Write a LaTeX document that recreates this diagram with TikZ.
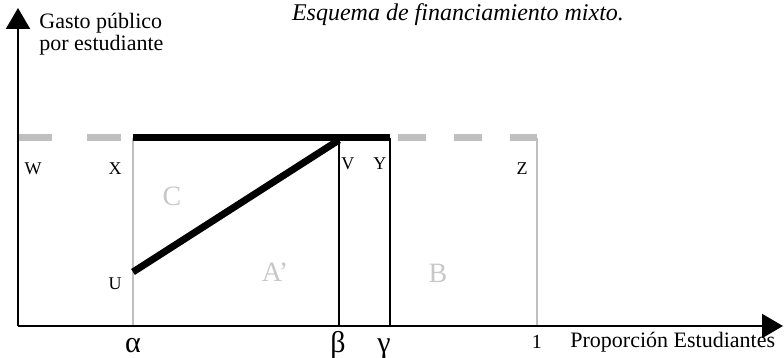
\documentclass[tikz,border=0pt]{standalone}
\usepackage{fontspec}
\setmainfont{Liberation Serif}
\usetikzlibrary{arrows.meta}
\tikzset{
  diagaxis/.style={-{Triangle[length=10.5pt,width=12pt]}, line width=1pt},
  diagthick/.style={line width=3.5pt},
  diagthin/.style={line width=0.8pt},
  diagsmall/.style={font=\fontsize{9}{10}\selectfont, inner sep=0pt, anchor=base},
}

\begin{document}
\begin{tikzpicture}[
  x=0.5pt, y=0.5pt,
  font=\fontsize{11}{11}\selectfont,
  grayline/.style={diagthin, draw=black!25},
  graydash/.style={diagthick, draw=black!25},
  areatxt/.style={font=\fontsize{14}{16}\selectfont, text=black!22, inner sep=0pt, anchor=base},
  greektxt/.style={font=\fontsize{15}{17}\selectfont, inner sep=0pt, anchor=base},
]
  \useasboundingbox (-18,-32) rectangle (766,326);
  \coordinate (O) at (0,0);
  \coordinate (Ytip) at (0,318);
  \coordinate (Xtip) at (765,0);
  \coordinate (Wt) at (0,188);
  \coordinate (Xt) at (115,188);
  \coordinate (Xb) at (115,0);
  \coordinate (Ut) at (115,54);
  \coordinate (Vt) at (321,186);
  \coordinate (Vb) at (321,0);
  \coordinate (Yt) at (372,188);
  \coordinate (Yb) at (372,0);
  \coordinate (Zd) at (380,188);
  \coordinate (Zt) at (519,188);
  \coordinate (Zb) at (519,0);

  \draw[graydash, dash pattern=on 17pt off 17.5pt] (Wt) -- (Xt);
  \draw[graydash, dash pattern=on 14pt off 14pt] (Zd) -- (Zt);
  \draw[grayline] (Xt) -- (Xb);
  \draw[grayline] (Zt) -- (Zb);
  \draw[diagthin] (Vt) -- (Vb);
  \draw[diagthin] (Yt) -- (Yb);
  \draw[diagthick] (Xt) -- (Yt);
  \draw[diagthick] (Ut) -- (Vt);
  \draw[diagaxis] (O) -- (Ytip);
  \draw[diagaxis] (O) -- (Xtip);

  \node[font=\fontsize{12}{13}\selectfont\itshape, anchor=base] (titulo) at (440,305)
    {Esquema de financiamiento mixto.};
  \node[anchor=north west, align=left, inner sep=0pt] (ylab) at (21,313)
    {Gasto público\\por estudiante};
  \node[anchor=base west, inner sep=0pt] (xlab) at (552,-22) {Proporción Estudiantes};

  \foreach \n/\t/\x/\y in {w/W/15/151, x/X/97/151, z/Z/504/151, v/V/330/156, y/Y/362/156, u/U/97/36}
    \node[diagsmall] (lab\n) at (\x,\y) {\t};
  \node[areatxt] (areaC) at (154,120) {C};
  \node[areatxt] (areaA) at (257,44) {A’};
  \node[areatxt] (areaB) at (420,43) {B};
  \node[greektxt] (alfa) at (115,-27) {α};
  \node[greektxt] (beta) at (320,-27) {β};
  \node[greektxt] (gama) at (366,-27) {γ};
  \node[font=\fontsize{10}{12}\selectfont, inner sep=0pt, anchor=base] (uno) at (519,-23) {1};
\end{tikzpicture}
\end{document}
